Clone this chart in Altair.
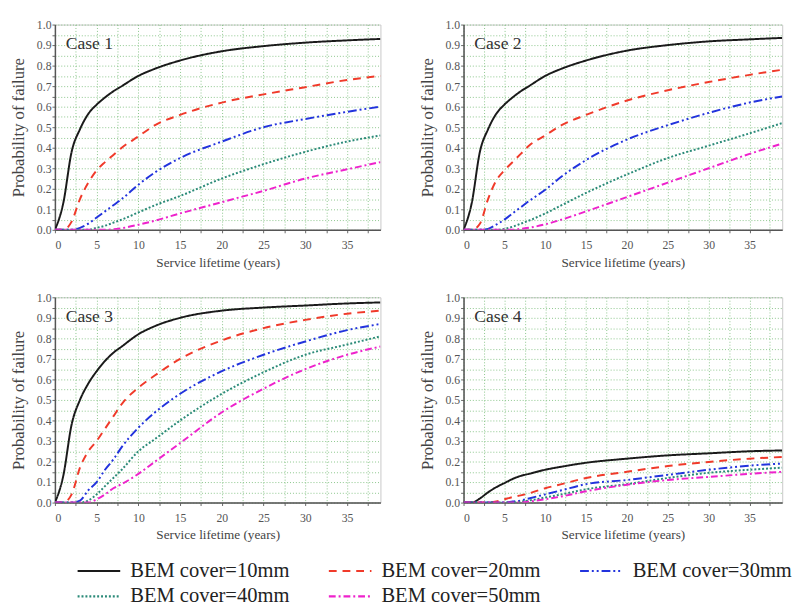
import altair as alt
import pandas as pd

# ---------------- data ----------------
years = [0, 1, 2, 3, 4, 5, 6, 7, 8, 10, 12, 15, 20, 25, 30, 35, 39]
covers = ["BEM cover=10mm", "BEM cover=20mm", "BEM cover=30mm",
          "BEM cover=40mm", "BEM cover=50mm"]
cases = ["Case 1", "Case 2", "Case 3", "Case 4"]

case1_10 = [0, 0.13, 0.38, 0.49, 0.565, 0.61, 0.645, 0.675, 0.70, 0.75, 0.785, 0.825, 0.87, 0.895, 0.912, 0.923, 0.93]
case1_20 = [0, 0, 0.04, 0.15, 0.23, 0.29, 0.33, 0.365, 0.40, 0.455, 0.51, 0.56, 0.62, 0.66, 0.695, 0.73, 0.75]
case1_30 = [0, 0, 0, 0.01, 0.03, 0.06, 0.09, 0.12, 0.15, 0.22, 0.28, 0.35, 0.43, 0.50, 0.54, 0.575, 0.60]
case1_40 = [0, 0, 0, 0, 0, 0.01, 0.02, 0.035, 0.05, 0.085, 0.12, 0.165, 0.25, 0.32, 0.38, 0.43, 0.46]
case1_50 = [0, 0, 0, 0, 0, 0, 0, 0.003, 0.008, 0.025, 0.045, 0.08, 0.135, 0.19, 0.25, 0.295, 0.33]

case2_10 = [0, 0.13, 0.38, 0.49, 0.565, 0.61, 0.645, 0.675, 0.70, 0.75, 0.785, 0.825, 0.873, 0.90, 0.918, 0.928, 0.935]
case2_20 = [0, 0, 0.03, 0.15, 0.24, 0.29, 0.33, 0.37, 0.41, 0.46, 0.51, 0.56, 0.63, 0.68, 0.72, 0.755, 0.78]
case2_30 = [0, 0, 0, 0.005, 0.025, 0.05, 0.08, 0.11, 0.14, 0.195, 0.26, 0.34, 0.44, 0.51, 0.57, 0.62, 0.65]
case2_40 = [0, 0, 0, 0, 0, 0.005, 0.015, 0.03, 0.045, 0.08, 0.12, 0.18, 0.27, 0.35, 0.41, 0.47, 0.52]
case2_50 = [0, 0, 0, 0, 0, 0, 0, 0.005, 0.01, 0.027, 0.05, 0.09, 0.16, 0.23, 0.30, 0.37, 0.42]

case3_10 = [0, 0.13, 0.38, 0.50, 0.58, 0.64, 0.69, 0.73, 0.76, 0.82, 0.86, 0.90, 0.935, 0.95, 0.96, 0.97, 0.975]
case3_20 = [0, 0, 0.04, 0.17, 0.25, 0.30, 0.36, 0.42, 0.48, 0.56, 0.62, 0.70, 0.79, 0.85, 0.89, 0.92, 0.935]
case3_30 = [0, 0, 0, 0.01, 0.06, 0.10, 0.16, 0.21, 0.27, 0.365, 0.44, 0.53, 0.64, 0.72, 0.785, 0.84, 0.87]
case3_40 = [0, 0, 0, 0, 0.01, 0.04, 0.08, 0.12, 0.16, 0.25, 0.31, 0.40, 0.53, 0.635, 0.72, 0.77, 0.81]
case3_50 = [0, 0, 0, 0, 0, 0.016, 0.04, 0.07, 0.09, 0.14, 0.20, 0.29, 0.44, 0.555, 0.65, 0.72, 0.76]

case4_10 = [0, 0, 0.02, 0.05, 0.075, 0.095, 0.115, 0.13, 0.14, 0.16, 0.175, 0.194, 0.214, 0.23, 0.24, 0.25, 0.254]
case4_20 = [0, 0, 0, 0, 0.005, 0.016, 0.027, 0.035, 0.045, 0.07, 0.09, 0.12, 0.15, 0.178, 0.198, 0.214, 0.222]
case4_30 = [0, 0, 0, 0, 0, 0, 0.005, 0.01, 0.02, 0.04, 0.06, 0.09, 0.11, 0.135, 0.16, 0.18, 0.19]
case4_40 = [0, 0, 0, 0, 0, 0, 0, 0.005, 0.01, 0.025, 0.04, 0.065, 0.09, 0.12, 0.145, 0.16, 0.17]
case4_50 = [0, 0, 0, 0, 0, 0, 0, 0, 0.005, 0.016, 0.03, 0.055, 0.087, 0.11, 0.125, 0.14, 0.15]

series = {
    "Case 1": [case1_10, case1_20, case1_30, case1_40, case1_50],
    "Case 2": [case2_10, case2_20, case2_30, case2_40, case2_50],
    "Case 3": [case3_10, case3_20, case3_30, case3_40, case3_50],
    "Case 4": [case4_10, case4_20, case4_30, case4_40, case4_50],
}

x_grid = [i * 2.5 for i in range(16)]
y_grid = [round(i * 0.05, 2) for i in range(21)]

rows = []
for c in cases:
    for cov, vals in zip(covers, series[c]):
        for yr, v in zip(years, vals):
            rows.append({"case": c, "year": yr, "cover": cov, "p": v})
df = pd.DataFrame(rows)

# ---------------- styling ----------------
FONT = "Liberation Serif"
line_colors = ["#1a1a1a", "#f03a2a", "#2233dd", "#2a8a78", "#ee22cc"]
dashes = [[1, 0], [8, 6], [9, 3, 2, 3, 2, 3], [2, 2], [7, 3, 2, 3]]

color_scale = alt.Scale(domain=covers, range=line_colors)
dash_scale = alt.Scale(domain=covers, range=dashes)

legend = alt.Legend(
    title=None, orient="bottom", direction="horizontal", offset=20,
    columns=3, symbolType="stroke", symbolSize=1900, symbolStrokeWidth=2.2,
    symbolOffset=22, labelOffset=9, clipHeight=20,
    labelFont=FONT, labelFontSize=21, labelColor="#222",
    columnPadding=17, rowPadding=5, padding=0, labelLimit=300,
)


def panel(case, w):
    base = alt.Chart(df[df["case"] == case])
    lines = base.mark_line(interpolate="monotone", strokeWidth=2, clip=True).encode(
        x=alt.X("year:Q", scale=alt.Scale(domain=[0, 39], nice=False),
                axis=alt.Axis(values=x_grid, title="Service lifetime (years)",
                              labelExpr="datum.value % 5 == 0 ? datum.label : ''",
                              tickSize=3, labelPadding=7, minExtent=22, maxExtent=22,
                              titlePadding=4, titleFontSize=13.5)),
        y=alt.Y("p:Q", scale=alt.Scale(domain=[0, 1], nice=False),
                axis=alt.Axis(values=y_grid, title="Probability of failure",
                              labelExpr="round(datum.value*100) % 10 == 0 ? format(datum.value, '.1f') : ''",
                              tickSize=3, labelPadding=1, minExtent=26, maxExtent=26,
                              titlePadding=2, titleFontSize=17)),
        color=alt.Color("cover:N", scale=color_scale, legend=legend),
        strokeDash=alt.StrokeDash("cover:N", scale=dash_scale, legend=legend),
        order=alt.Order("year:Q"),
    )
    label = alt.Chart(pd.DataFrame({"t": [case]})).mark_text(
        align="left", baseline="middle", font=FONT, fontSize=18, color="#333"
    ).encode(text="t:N", x=alt.value(11), y=alt.value(20))
    return alt.layer(lines, label).properties(width=w, height=210)


row1 = alt.hconcat(panel("Case 1", 333), panel("Case 2", 326), spacing=37)
row2 = alt.hconcat(panel("Case 3", 333), panel("Case 4", 326), spacing=37)

chart = alt.vconcat(row1, row2, spacing=22).properties(
    padding={"left": 1, "top": 3, "right": 0, "bottom": 0},
    background="white",
).configure_view(
    stroke="#c8c8c8", strokeWidth=1
).configure_axis(
    labelFont=FONT, titleFont=FONT, labelFontSize=12, labelColor="#555",
    titleColor="#444", titleFontWeight="normal",
    domainColor="#555", domainWidth=1.5, tickColor="#666",
    gridColor="#7dbf7d", gridDash=[1, 2], gridWidth=1, gridOpacity=0.9,
)

chart.save("out.html", embed_options={"renderer": "svg", "actions": False})
